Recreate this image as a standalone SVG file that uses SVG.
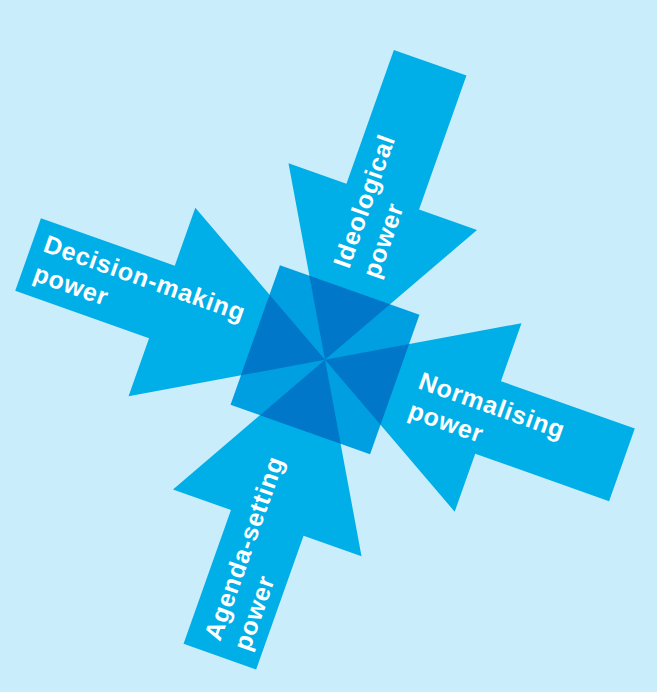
<svg xmlns="http://www.w3.org/2000/svg" width="657" height="692" viewBox="0 0 657 692">
<style>
.bg{fill:#c9edfa}
.arrow{fill:#00afe8}
.sq{fill:#009fe1}
.dark{fill:#0077c9}
.lbl{font-family:"Liberation Sans",Arial,sans-serif;font-weight:bold;font-size:25px;fill:#ffffff;letter-spacing:0.8px}
</style>
<defs>
<polygon id="arr" points="-315,-38.5 -173,-38.5 -173,-100 0,0 -173,100 -173,38.5 -315,38.5"/>
<polygon id="tri" points="0,0 -74,-42.8 -74,42.8"/>
</defs>
<rect class="bg" x="0" y="0" width="657" height="692"/>
<g id="decision">
<use href="#arr" class="arrow" transform="translate(325,359.7) rotate(19.5)"/>
<text class="lbl" transform="translate(42,251) rotate(19.5)"><tspan x="0" y="0">Decision-making</tspan><tspan x="0" y="31">power</tspan></text>
</g>
<g id="ideological">
<use href="#arr" class="arrow" transform="translate(325,359.7) rotate(109.5)"/>
<text class="lbl" transform="translate(349,269.5) rotate(-70.5)"><tspan x="0" y="0">Ideological</tspan><tspan x="0" y="31">power</tspan></text>
</g>
<g id="normalising">
<use href="#arr" class="arrow" transform="translate(325,359.7) rotate(199.5)"/>
<text class="lbl" transform="translate(417,388) rotate(19.5)"><tspan x="0" y="0">Normalising</tspan><tspan x="0" y="31">power</tspan></text>
</g>
<g id="agenda">
<use href="#arr" class="arrow" transform="translate(325,359.7) rotate(289.5)"/>
<text class="lbl" transform="translate(220,642) rotate(-70.5)"><tspan x="0" y="0">Agenda-setting</tspan><tspan x="0" y="31">power</tspan></text>
</g>
<g id="centre" transform="translate(325,359.7) rotate(19.5)">
<rect class="sq" x="-74" y="-74" width="148" height="148"/>
<use href="#tri" class="dark"/>
<use href="#tri" class="dark" transform="rotate(90)"/>
<use href="#tri" class="dark" transform="rotate(180)"/>
<use href="#tri" class="dark" transform="rotate(270)"/>
</g>
</svg>
